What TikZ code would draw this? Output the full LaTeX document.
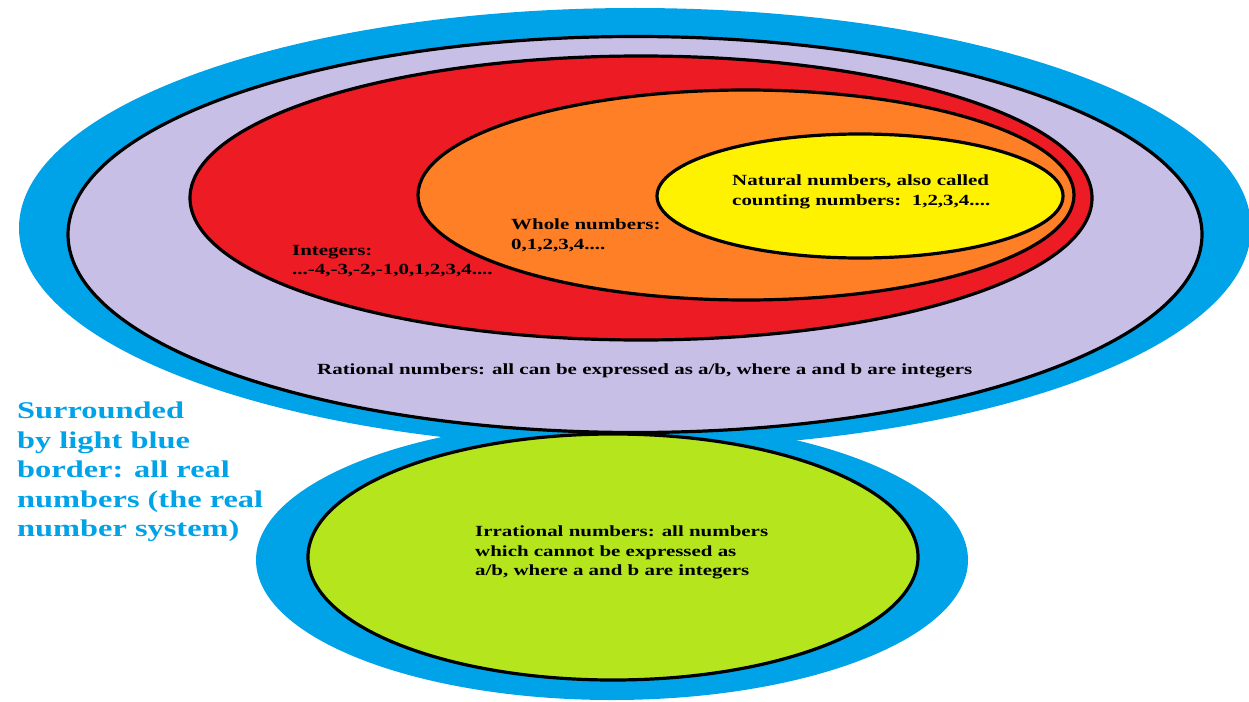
\documentclass[tikz,border=0pt]{standalone}
\usepackage{fontspec}
\setmainfont{Liberation Serif}[FakeStretch=1.35]
\definecolor{rblue}{RGB}{0,162,232}
\definecolor{lav}{RGB}{200,191,231}
\definecolor{rred}{RGB}{237,28,36}
\definecolor{org}{RGB}{255,127,39}
\definecolor{yel}{RGB}{255,242,0}
\definecolor{lime}{RGB}{181,230,29}
\tikzset{
  bd/.style={draw=black, line width=3.2pt},
  lbl/.style={anchor=north west, inner sep=0pt, align=left, text=black,
    font=\fontsize{15.5}{19.5}\selectfont\bfseries},
  bluelbl/.style={anchor=north west, inner sep=0pt, align=left, text=rblue,
    font=\fontsize{24}{29.5}\selectfont\bfseries}
}
\begin{document}
\begin{tikzpicture}[x=1pt,y=-1pt]
\useasboundingbox[fill=white] (0,0) rectangle (1249,701);
% real numbers: light blue border
\fill[rblue] (635,228) ellipse [x radius=616, y radius=220];
\fill[rblue] (612,560) ellipse [x radius=356, y radius=140];
% rational
\draw[bd, fill=lav] (635,234.5) ellipse [x radius=567, y radius=198];
% integers
\draw[bd, fill=rred] (641,198) ellipse [x radius=451, y radius=142];
% whole
\draw[bd, fill=org] (746,195) ellipse [x radius=328, y radius=105];
% natural
\draw[bd, fill=yel] (860,196) ellipse [x radius=203, y radius=62];
% irrational
\draw[bd, fill=lime] (613,557) ellipse [x radius=305, y radius=123];
% labels
\node[lbl] (nat) at (732,175) {Natural numbers, also called\\counting numbers:\ \ 1,2,3,4....};
\node[lbl] (whole) at (511,219) {Whole numbers:\\0,1,2,3,4....};
\node[lbl] (int) at (292,245) {Integers:\\...-4,-3,-2,-1,0,1,2,3,4....};
\node[lbl] (rat) at (317,364) {Rational numbers: all can be expressed as a/b, where a and b are integers};
\node[lbl] (irr) at (475,526) {Irrational numbers: all numbers\\which cannot be expressed as\\a/b, where a and b are integers};
\node[bluelbl] (real) at (17,402) {Surrounded\\by light blue\\border: all real\\numbers (the real\\number system)};
\end{tikzpicture}
\end{document}
